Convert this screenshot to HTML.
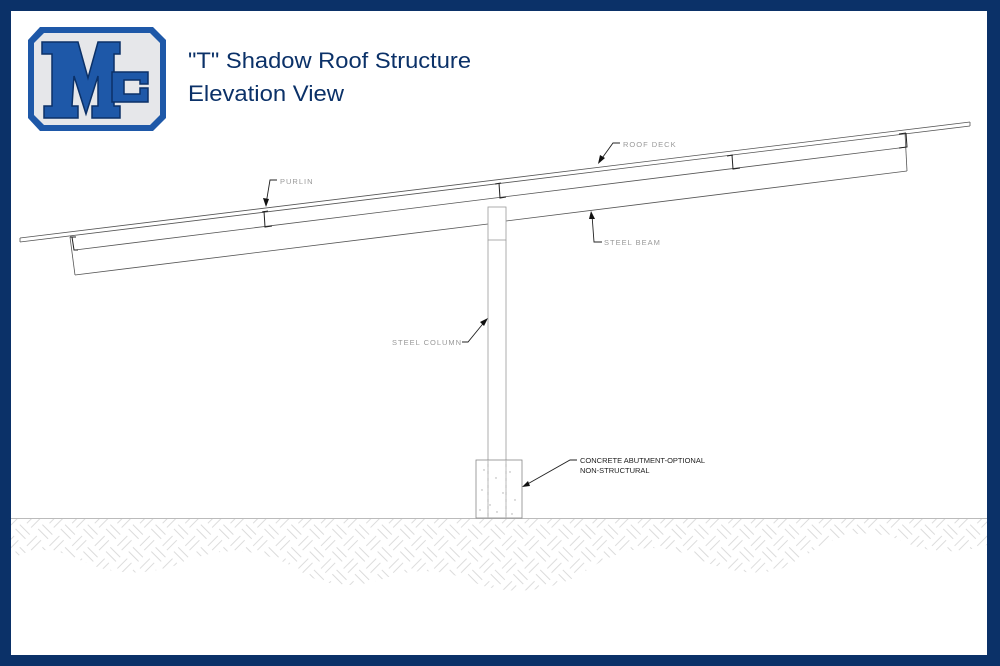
<!DOCTYPE html>
<html><head><meta charset="utf-8"><style>
html,body{margin:0;padding:0;background:#0b3168;}
svg{position:absolute;left:0;top:0}
</style></head><body>
<svg width="1000" height="666" viewBox="0 0 1000 666">
<rect x="0" y="0" width="1000" height="666" fill="#0b3168"/>
<rect x="11" y="11" width="976" height="644" fill="#fff"/>
<defs>
<pattern id="h" width="32" height="32" patternUnits="userSpaceOnUse" patternTransform="rotate(45)">
<g stroke="#cfcfcf" stroke-width="0.7" fill="none">
<path d="M1 5H15M1 11H15"/>
<path d="M21 1V15M27 1V15"/>
<path d="M5 17V31M11 17V31"/>
<path d="M17 21H31M17 27H31"/>
</g></pattern>
<clipPath id="c"><path d="M11 519 L987 519 L987 545 Q940 560 900 540 Q850 520 800 560 Q760 585 700 560 Q640 530 580 575 Q530 600 480 585 Q430 560 380 580 Q330 595 290 565 Q240 540 190 560 Q130 585 80 560 Q40 540 11 560 Z"/></clipPath>
</defs>
<rect x="11" y="519" width="976" height="90" fill="url(#h)" clip-path="url(#c)"/>
<line x1="11" y1="518.5" x2="987" y2="518.5" stroke="#bbb" stroke-width="1"/>
<!-- logo -->
<path d="M40 27 L153 27 L166 40 L166 118 L153 131 L40 131 L28 118 L28 40 Z" fill="#1e58a8"/>
<path d="M44 33 L150 33 L160 43 L160 115 L150 125 L44 125 L34 115 L34 43 Z" fill="#e6e7ea"/>
<path d="M42 42 L78 42 L88 78 L98 42 L120 42 L120 54 L114 54 L114 106 L120 106 L120 118 L92 118 L92 106 L98 106 L98 76 L86 114 L74 76 L72 106 L78 106 L78 118 L44 118 L44 106 L52 106 L52 54 L42 54 Z" fill="#1e58a8" stroke="#0b3168" stroke-width="1.5"/>
<path d="M112 72 L148 72 L148 84 L140 84 L140 80 L124 80 L124 94 L140 94 L140 88 L148 88 L148 102 L112 102 Z" fill="#1e58a8" stroke="#0b3168" stroke-width="1.5"/>
<g stroke="#555" fill="none" stroke-width="0.8">
<line x1="20" y1="238" x2="970" y2="122"/>
<line x1="20" y1="242" x2="970" y2="126"/>
<line x1="20" y1="238" x2="20" y2="242"/><line x1="970" y1="122" x2="970" y2="126"/>
<line x1="75" y1="250" x2="907" y2="147"/>
<line x1="75" y1="275" x2="488" y2="224"/>
<line x1="506" y1="221" x2="907" y2="171"/>
<line x1="70" y1="237" x2="75" y2="275"/>
<line x1="905" y1="133" x2="907" y2="171"/>
<rect x="488" y="207" width="18" height="33" stroke="#999"/>
<line x1="488" y1="240" x2="488" y2="518" stroke="#999"/>
<line x1="506" y1="240" x2="506" y2="518" stroke="#999"/>
<rect x="476" y="460" width="46" height="58" stroke="#888"/>
<line x1="488" y1="460" x2="488" y2="518" stroke="#bbb" stroke-dasharray="4 3"/>
<line x1="506" y1="460" x2="506" y2="518" stroke="#bbb" stroke-dasharray="4 3"/>
</g>
<g stroke="#222" fill="none" stroke-width="1">
<path d="M70 237 L76 237 M72 237 L74 250 L78 250"/>
<path d="M262 212 L268 211 M264 211 L265 227 L272 226"/>
<path d="M495 184 L501 183 M499 183 L500 198 L506 197"/>
<path d="M727 156 L733 155 M732 155 L733 169 L740 168"/>
<path d="M899 134 L906 133 M906 133 L907 147 L899 148"/>
</g>
<g fill="#aaa">
<circle cx="484" cy="470" r=".7"/><circle cx="496" cy="478" r=".7"/><circle cx="510" cy="472" r=".7"/><circle cx="482" cy="490" r=".7"/><circle cx="503" cy="493" r=".7"/><circle cx="515" cy="500" r=".7"/><circle cx="490" cy="505" r=".7"/><circle cx="480" cy="510" r=".7"/><circle cx="512" cy="514" r=".7"/><circle cx="497" cy="512" r=".7"/>
</g>
<g stroke="#222" fill="none" stroke-width="0.9">
<path d="M277 180 L270 180 L266 204"/>
<path d="M620 143 L613 143 L600 161"/>
<path d="M602 242 L594 242 L592 215"/>
<path d="M462 342 L468 342 L486 320"/>
<path d="M577 460 L570 460 L524 486"/>
</g>
<g fill="#111">
<path d="M266 207 L263 198 L269 199 Z"/>
<path d="M598 164 L600 155 L605 158 Z"/>
<path d="M591 211 L589 219 L595 219 Z"/>
<path d="M488 318 L480 322 L484 326 Z"/>
<path d="M522 487 L528 481 L530 486 Z"/>
</g>
<g font-family="Liberation Sans,sans-serif" font-size="7.5" fill="#999" letter-spacing="1">
<text x="280" y="184">PURLIN</text>
<text x="623" y="147">ROOF DECK</text>
<text x="604" y="245">STEEL BEAM</text>
<text x="392" y="345">STEEL COLUMN</text>
</g>
<g font-family="Liberation Sans,sans-serif" font-size="7.5" fill="#222">
<text x="580" y="463">CONCRETE ABUTMENT-OPTIONAL</text>
<text x="580" y="473">NON-STRUCTURAL</text>
</g>
<g font-family="Liberation Sans,sans-serif" font-size="22" fill="#0b3168">
<text x="188" y="68" textLength="283" lengthAdjust="spacingAndGlyphs">"T" Shadow Roof Structure</text>
<text x="188" y="101" textLength="156" lengthAdjust="spacingAndGlyphs">Elevation View</text>
</g>
</svg>
</body></html>
